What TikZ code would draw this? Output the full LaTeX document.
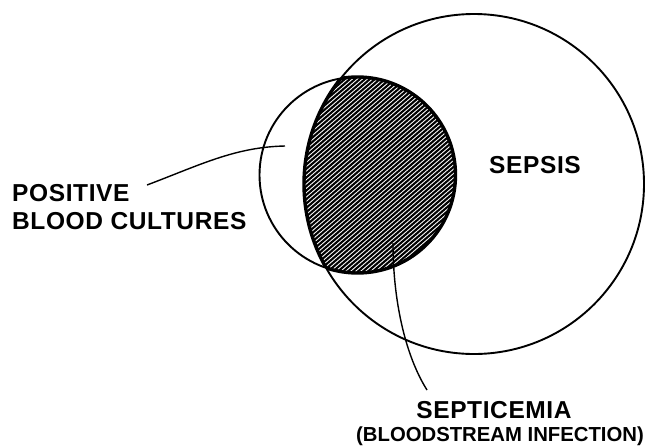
\documentclass[tikz,border=0pt]{standalone}
\usepackage{fontspec}
\setmainfont{Liberation Sans}
\newfontfamily\widesans{Liberation Sans}[LetterSpace=2.5]
\usetikzlibrary{positioning}

\begin{document}
\begin{tikzpicture}[x=1pt, y=-1pt, every node/.style={font=\widesans\bfseries\fontsize{24.5}{28}\selectfont, inner sep=0pt}]

\useasboundingbox (0,0) rectangle (648,445);

\node[draw, circle, line width=1.9pt, minimum size=340pt] (sepsis) at (474,184) {};
\node[draw, circle, line width=1.9pt, minimum size=196pt] (cultures) at (357.5,175) {};

% hatched overlap
\begin{scope}
\clip (sepsis.center) circle (170pt);
\clip (cultures.center) circle (98pt);
\foreach \s in {20,25,...,440}
  \draw[line width=2.1pt] (\s,300) -- ++(300,-260);
\end{scope}
\begin{scope}
\clip (sepsis.center) circle (170pt);
\draw[line width=3.4pt] (cultures.center) circle (98pt);
\end{scope}
\begin{scope}
\clip (cultures.center) circle (98pt);
\draw[line width=3.4pt] (sepsis.center) circle (170pt);
\end{scope}

\node[anchor=base west] (positive) at (12,201) {POSITIVE};
\node[anchor=base west] (bloodcult) at (12,229) {BLOOD CULTURES};
\node[anchor=base] (sepsislabel) at (535,173) {SEPSIS};
\node[anchor=base] (septicemia) at (494,418) {SEPTICEMIA};
\node[anchor=base, font=\rmfamily\bfseries\fontsize{20.3}{24}\selectfont] (bloodstream) at (500,441) {(BLOODSTREAM INFECTION)};

\coordinate (cultstart) at (147,185);
\coordinate (cultpoint) at (285,146);
\coordinate (septstart) at (427,390);
\coordinate (septpoint) at (393,243);

\draw[line width=1.4pt] (cultstart) .. controls (200,165) and (235,147) .. (cultpoint);
\draw[line width=1.4pt] (septpoint) .. controls (393,300) and (405,355) .. (septstart);

\end{tikzpicture}
\end{document}
